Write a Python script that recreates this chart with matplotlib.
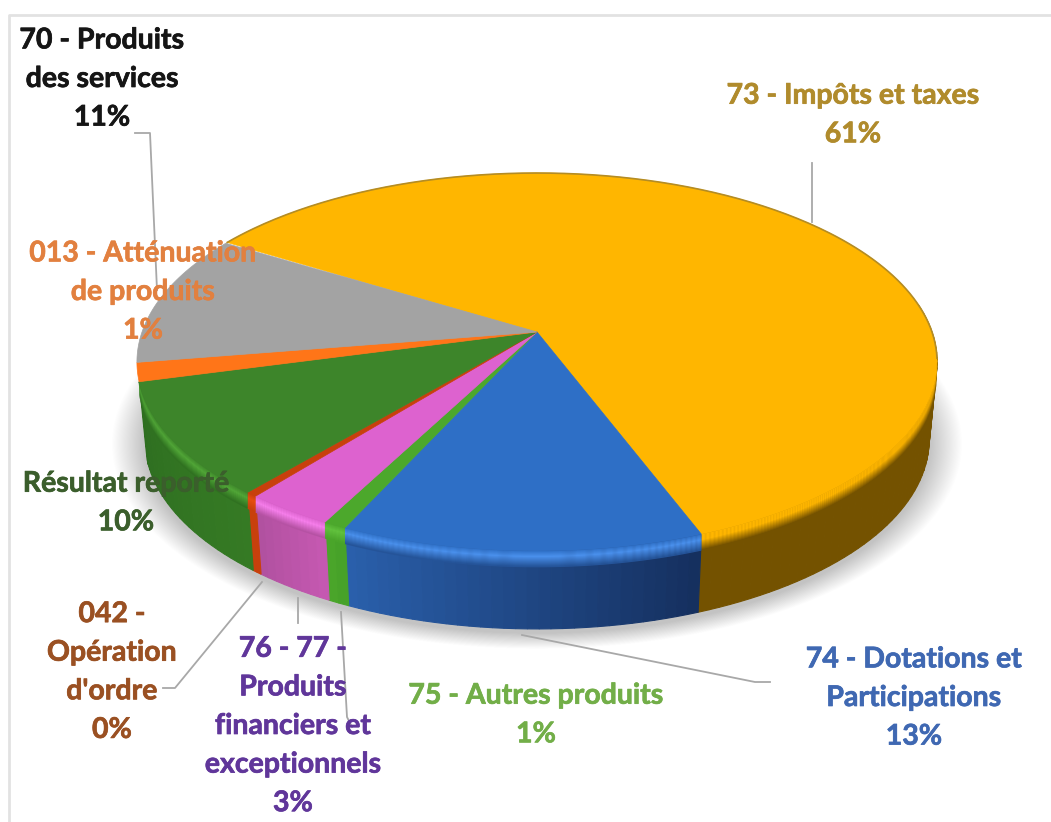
import numpy as np
import matplotlib
matplotlib.use("Agg")
import matplotlib.pyplot as plt
import matplotlib.patheffects as pe

# parts of the pie (the labels are rounded)
categories = ["73", "74", "75", "76-77", "042", "002", "013", "70"]
valeurs = [60.4, 12.6, 0.8, 3.1, 0.4, 9.7, 1.6, 11.3]

labels = [
    "70 - Produits\ndes services\n11%",
    "73 - Impôts et taxes\n61%",
    "013 - Atténuation\nde produits\n1%",
    "Résultat reporté\n10%",
    "042 -\nOpération\nd'ordre\n0%",
    "76 - 77 -\nProduits\nfinanciers et\nexceptionnels\n3%",
    "75 - Autres produits\n1%",
    "74 - Dotations et\nParticipations\n13%",
]

# style of each slice: top, highlight on the rim, side left, side right
top_col = ["#FFB600", "#2E6FC6", "#4CA82C", "#DD62CF", "#C8400C", "#3D852A", "#FF7518", "#A3A3A3"]
rim_col = ["#FFB600", "#4A90EC", "#62C23E", "#F77FEC", "#E85010", "#52A838", "#FF7518", "#A3A3A3"]
side_l = ["#745200", "#2A60AC", "#4BA62A", "#B0509F", "#C8400C", "#2E6E20", "#C85A10", "#808080"]
side_r = ["#745200", "#152F5E", "#46A028", "#C659B2", "#C8400C", "#357A24", "#C85A10", "#808080"]

label_col = ["#151515", "#B08B2C", "#E2803F", "#3B5E2C", "#9A5022", "#60369A", "#72AE48", "#3F68B2"]
label_pos = [(102, 79), (853, 115), (143, 292), (126, 503), (112, 672), (293, 726), (536, 715), (914, 698)]

# leader lines, in pixels
leaders = [
    [(135, 133), (150, 133), (157, 290)],
    [(812, 163), (812, 222)],
    [(163, 688), (175, 688), (262, 582)],
    [(298, 598), (298, 623)],
    [(341, 612), (347, 717), (352, 727)],
    [(522, 635), (755, 682), (770, 682)],
]

debut = 148.2  # angle where the first slice starts, goes clockwise
apex_x, apex_y = 537, 332
h, k, s = 184.2, 0.1587, 395.0
epaisseur = 78
retrait = 0.98
limite = 0.15  # the back of the side stays hidden


# disc seen in perspective: the centre is not the centre of the ellipse
def projeter(theta):
    u = np.cos(np.radians(theta))
    v = np.sin(np.radians(theta))
    w = 1 + k * v
    return apex_x + s * u / w, apex_y - h * v / w


def mix(c1, c2, f):
    a = np.array(matplotlib.colors.to_rgb(c1))
    b = np.array(matplotlib.colors.to_rgb(c2))
    return tuple(a + (b - a) * f)


fig = plt.figure(figsize=(10.51, 8.22), dpi=100)
ax = fig.add_axes([0, 0, 1, 1])
ax.set_xlim(0, 1051)
ax.set_ylim(822, 0)
ax.axis("off")

# cadre
ax.plot([9, 9, 1051], [822, 15, 15], color="#E2E2E2", lw=2, zorder=1)

# ombre
tour = np.linspace(0, 360, 361)
X, Y = projeter(tour)
for i in range(30):
    g = 1 + (30 - i) * 0.0028
    xo = apex_x + (X - apex_x) * retrait * g
    yo = 362 + (Y - 362) * g + epaisseur + 4
    ax.fill(xo, yo, color="black", alpha=0.0075, lw=0, zorder=2)

# bornes des parts
angles = debut - np.concatenate([[0], np.cumsum(valeurs)]) * 3.6

# flanc du camembert
for i in range(6):
    a0, a1 = angles[i], angles[i + 1]
    n = max(2, int((a0 - a1) / 1.5) + 1)
    th = np.linspace(a0, a1, n + 1)
    # on part de la fin pour que chaque bande recouvre un peu la suivante
    for j in range(n - 1, -1, -1):
        t = th[j:j + 2]
        if np.sin(np.radians(t.mean())) > limite:
            continue
        x, y = projeter(t)
        xb = apex_x + (x - apex_x) * retrait
        yb = y + epaisseur
        pos = (a0 - t.mean()) / (a0 - a1)
        # a0 est a droite pour les parts de devant
        col = mix(side_r[i], side_l[i], pos)
        ax.fill([x[0], x[1], xb[1], xb[0]], [y[0], y[1], yb[1], yb[0]],
                color=col, lw=0.8, ec=col, zorder=3)

    # biseau en haut du flanc
    th_b = np.linspace(a0, a1, 120)
    xa, ya = projeter(th_b)
    keep = np.sin(np.radians(th_b)) < limite
    xa, ya = xa[keep], ya[keep]
    # le biseau se resserre vers le bout droit
    largeur = np.clip((np.sin(np.radians(th_b[keep])) - limite) / -0.5, 0.25, 1)
    for b in range(16):
        if b < 6:
            c = mix(top_col[i], rim_col[i], (b + 1) / 6)
        else:
            c = mix(rim_col[i], mix(side_l[i], side_r[i], 0.25), (b - 5) / 10)
        xx = np.concatenate([xa, xa[::-1]])
        yy = np.concatenate([ya + b * largeur, (ya + (b + 1.4) * largeur)[::-1]])
        ax.fill(xx, yy, color=c, lw=0, zorder=4)

# dessus
for i in range(len(valeurs)):
    th = np.linspace(angles[i], angles[i + 1], 80)
    x, y = projeter(th)
    ax.fill(np.r_[apex_x, x], np.r_[apex_y, y], color=top_col[i], lw=0.5, ec=top_col[i], zorder=5)

# liseré du bord arriere
th = np.linspace(angles[0], -8, 200)
x, y = projeter(th)
ax.plot(x, y, color="#B48C24", lw=1.2, zorder=6)

for pts in leaders:
    ax.plot([p[0] for p in pts], [p[1] for p in pts], color="#A8A8A8", lw=1.3, zorder=7)

for txt, col, pos in zip(labels, label_col, label_pos):
    t = ax.text(pos[0], pos[1], txt, color=col, ha="center", va="center", family="Lato",
                weight="bold", fontsize=20.5, linespacing=1.6, zorder=8)
    t.set_path_effects([pe.withStroke(linewidth=0.5, foreground=col)])

fig.savefig("out.png", dpi=100)
